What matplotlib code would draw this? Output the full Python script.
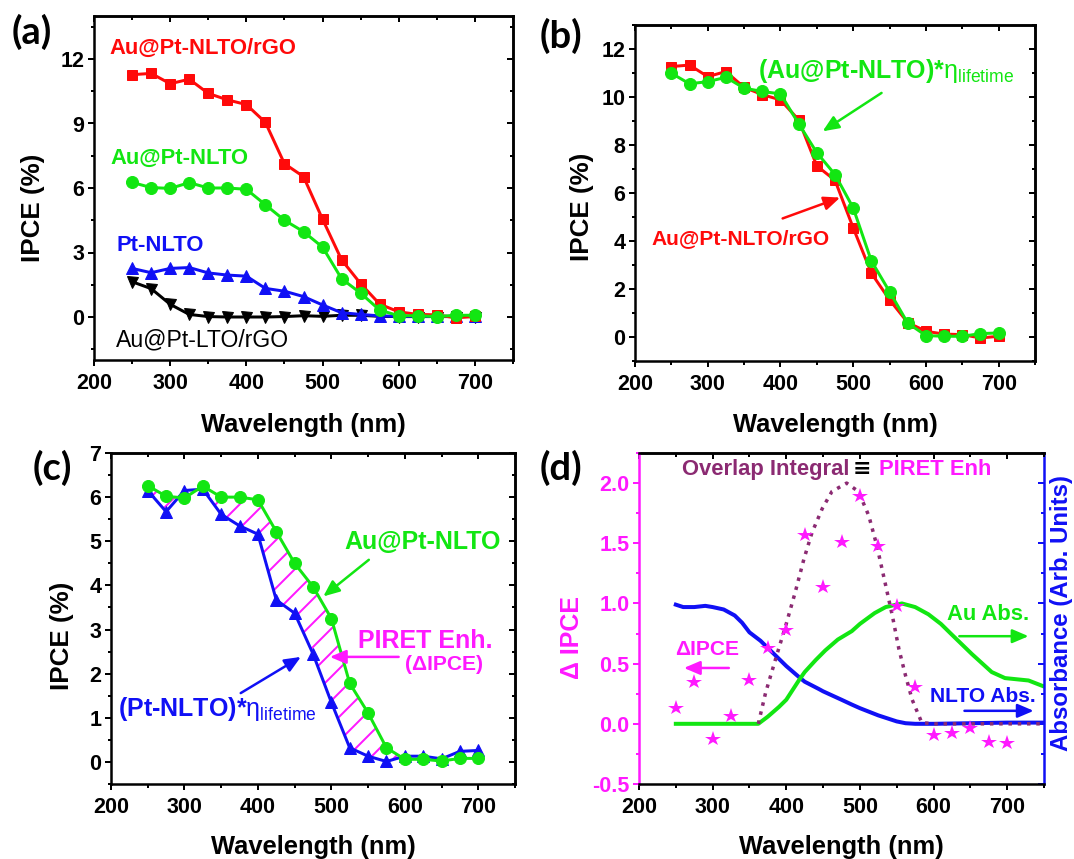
#!/usr/bin/env python3
"""IPCE spectra of the Au@Pt-NLTO photoanodes, four panels (a)-(d)."""
import matplotlib
matplotlib.use("Agg")
import matplotlib.pyplot as plt
from matplotlib.ticker import MultipleLocator

# ---- data ------------------------------------------------------------------
wavelength = [250, 275, 300, 325, 350, 375, 400, 425, 450, 475,
              500, 525, 550, 575, 600, 625, 650, 675, 700]

au_pt_nlto_rgo = [11.27, 11.33, 10.85, 11.06, 10.4, 10.1, 9.88, 9.05, 7.13, 6.53,
                  4.55, 2.66, 1.55, 0.6, 0.24, 0.12, 0.1, -0.04, 0.03]
au_pt_nlto = [6.26, 6.02, 5.98, 6.25, 6.0, 6.0, 5.94, 5.22, 4.5, 3.97,
              3.25, 1.78, 1.11, 0.32, 0.06, 0.06, 0.02, 0.08, 0.08]
pt_nlto = [2.26, 2.06, 2.26, 2.3, 2.05, 1.95, 1.9, 1.33, 1.2, 0.95,
           0.56, 0.2, 0.12, 0.05, 0.03, 0.03, 0.03, 0.03, 0.03]
au_pt_lto_rgo = [1.64, 1.32, 0.59, 0.12, 0.02, 0.0, 0.0, 0.0, 0.02, 0.06,
                 0.03, 0.08, 0.08, 0.03, 0.02, 0.02, 0.02, 0.02, 0.02]

au_pt_nlto_eta = [10.99, 10.55, 10.64, 10.82, 10.37, 10.23, 10.13, 8.89, 7.68, 6.77,
                  5.38, 3.17, 1.89, 0.58, 0.06, 0.03, 0.03, 0.14, 0.17]
pt_nlto_eta = [6.15, 5.67, 6.15, 6.18, 5.61, 5.35, 5.16, 3.67, 3.37, 2.45,
               1.35, 0.32, 0.13, 0.01, 0.13, 0.13, 0.07, 0.24, 0.26]

delta_ipce = [0.13, 0.35, -0.125, 0.067, 0.36, 0.63, 0.78, 1.57, 1.14, 1.51,
              1.89, 1.48, 0.98, 0.31, -0.09, -0.08, -0.036, -0.15, -0.16]

overlap_wl = [362, 372, 388, 399, 412, 424, 435, 449, 462, 482, 498, 512,
              523, 535, 544, 553, 562, 571, 584, 600, 650, 700, 750]
overlap = [0.0, 0.26, 0.59, 0.81, 1.09, 1.37, 1.59, 1.79, 1.93, 2.0, 1.93, 1.73,
           1.48, 1.15, 0.90, 0.62, 0.40, 0.20, 0.01, 0.0, 0.0, 0.0, 0.0]

nlto_abs_wl = [250, 260, 275, 290, 300, 315, 330, 340, 350, 365, 375, 385, 400, 417,
               425, 444, 450, 475, 489, 500, 525, 535, 550, 562, 575, 600, 650, 700, 750]
nlto_abs = [0.99, 0.97, 0.97, 0.98, 0.97, 0.95, 0.90, 0.84, 0.76, 0.69, 0.63, 0.57, 0.48, 0.39,
            0.35, 0.29, 0.27, 0.20, 0.16, 0.13, 0.07, 0.05, 0.02, 0.005, 0.0, 0.0, 0.005, 0.01, 0.01]

au_abs_wl = [250, 300, 362, 375, 390, 400, 417, 425, 440, 453, 470, 489, 500,
             520, 535, 557, 575, 593, 610, 625, 652, 679, 697, 729, 750]
au_abs = [0.0, 0.0, 0.0, 0.06, 0.14, 0.2, 0.36, 0.43, 0.53, 0.61, 0.70, 0.77, 0.83,
          0.92, 0.97, 1.0, 0.97, 0.91, 0.83, 0.74, 0.58, 0.43, 0.38, 0.36, 0.31]

RED = "#ff0a0a"
GREEN = "#12e612"
BLUE = "#1010f5"
MAGENTA = "#ff19ff"
PURPLE = "#8b2a72"

W, H, DPI = 1074, 859, 72   # at 72 dpi one point is one pixel

plt.rcParams.update({
    "font.family": ["Liberation Sans", "DejaVu Sans"],
    "font.weight": "bold",
    "axes.labelweight": "bold",
    "axes.unicode_minus": False,
    "mathtext.fontset": "custom",
    "mathtext.rm": "Liberation Sans:weight=normal",
    "mathtext.it": "Liberation Sans:italic:weight=normal",
    "mathtext.bf": "Liberation Sans:weight=bold",
    "hatch.linewidth": 2.0,
})

fig = plt.figure(figsize=(W / DPI, H / DPI), dpi=DPI)


def panel(left, top, right, bottom):
    return fig.add_axes([left / W, 1 - bottom / H, (right - left) / W, (bottom - top) / H])


def mirror_ticks(ax, side, major, minor, color="black"):
    if side == "top":
        sec = ax.secondary_xaxis("top")
        axis, lab = sec.xaxis, {"labeltop": False}
    else:
        sec = ax.secondary_yaxis("right")
        axis, lab = sec.yaxis, {"labelright": False}
    axis.set_major_locator(MultipleLocator(major))
    axis.set_minor_locator(MultipleLocator(minor))
    sec.tick_params(which="both", direction="in", width=2, colors=color, **lab)
    sec.tick_params(which="major", length=6)
    sec.tick_params(which="minor", length=3.5)
    sec.spines[side].set_linewidth(2.5)
    sec.spines[side].set_color(color)
    return sec


def style(ax, ylim, major, minor, ylabel, ylabel_xy, right=True):
    ax.set_xlim(200, 750)
    ax.set_ylim(*ylim)
    ax.xaxis.set_major_locator(MultipleLocator(100))
    ax.xaxis.set_minor_locator(MultipleLocator(50))
    ax.yaxis.set_major_locator(MultipleLocator(major))
    ax.yaxis.set_minor_locator(MultipleLocator(minor))
    ax.tick_params(which="both", direction="out", width=2, labelsize=21.5)
    ax.tick_params(which="major", length=6)
    ax.tick_params(which="minor", length=3.5)
    ax.tick_params(axis="x", pad=7)
    for sp in ax.spines.values():
        sp.set_linewidth(2.5)
    ax.set_xlabel("Wavelength (nm)", fontsize=25.5)
    ax.xaxis.set_label_coords(0.5, -0.155)
    ax.set_ylabel(ylabel, fontsize=26)
    ax.yaxis.set_label_coords(*ylabel_xy)
    mirror_ticks(ax, "top", 100, 50)
    if right:
        mirror_ticks(ax, "right", major, minor)


def arrow(ax, start, end, color):
    ax.annotate("", xy=end, xytext=start,
                arrowprops=dict(arrowstyle="-|>,head_length=0.75,head_width=0.32",
                                lw=2.5, color=color, mutation_scale=18,
                                shrinkA=0, shrinkB=0))


line_kw = dict(lw=3, mew=1)

# ---- (a) -------------------------------------------------------------------
ax = panel(94, 16, 513, 360)
ax.plot(wavelength, au_pt_lto_rgo, "v-", color="black", ms=11, **line_kw)
ax.plot(wavelength, pt_nlto, "^-", color=BLUE, ms=12, **line_kw)
ax.plot(wavelength, au_pt_nlto_rgo, "s-", color=RED, ms=10, **line_kw)
ax.plot(wavelength, au_pt_nlto, "o-", color=GREEN, ms=12, **line_kw)
style(ax, (-2, 14), 3, 1.5, "IPCE (%)", (-0.1175, 0.442))
ax.text(220, 12.5, "Au@Pt-NLTO/rGO", color=RED, fontsize=22, va="center")
ax.text(222, 7.38, "Au@Pt-NLTO", color=GREEN, fontsize=22, va="center")
ax.text(230, 3.34, "Pt-NLTO", color=BLUE, fontsize=22, va="center")
ax.text(229, -1.05, "Au@Pt-LTO/rGO", color="black", fontsize=23,
        fontweight="normal", va="center")

# ---- (b) -------------------------------------------------------------------
ax = panel(635, 25, 1035, 361)
ax.plot(wavelength, au_pt_nlto_rgo, "s-", color=RED, ms=10, **line_kw)
ax.plot(wavelength, au_pt_nlto_eta, "o-", color=GREEN, ms=12, **line_kw)
style(ax, (-1, 13), 2, 1, "IPCE (%)", (-0.102, 0.458))
ax.text(369, 10.8, r"(Au@Pt-NLTO)*$\mathrm{\eta_{lifetime}}$", color=GREEN,
        fontsize=25, va="baseline")
arrow(ax, (539, 10.17), (458, 8.57), GREEN)
ax.text(223, 4.11, "Au@Pt-NLTO/rGO", color=RED, fontsize=21, va="center")
arrow(ax, (403, 4.94), (482, 5.81), RED)

# ---- (c) -------------------------------------------------------------------
ax = panel(111, 453, 515, 784)
gain = [g > b for g, b in zip(au_pt_nlto, pt_nlto_eta)]
ax.fill_between(wavelength, au_pt_nlto, pt_nlto_eta, where=gain, interpolate=True,
                facecolor="none", edgecolor=MAGENTA, hatch="/", linewidth=0)
ax.plot(wavelength, pt_nlto_eta, "^-", color=BLUE, ms=12, **line_kw)
ax.plot(wavelength, au_pt_nlto, "o-", color=GREEN, ms=12, **line_kw)
style(ax, (-0.5, 7), 1, 0.5, "IPCE (%)", (-0.0916, 0.447))
ax.text(518, 4.99, "Au@Pt-NLTO", color=GREEN, fontsize=25, va="center")
arrow(ax, (551, 4.58), (489, 3.75), GREEN)
ax.text(535.6, 2.73, "PIRET Enh.", color=MAGENTA, fontsize=25, va="center")
ax.text(600, 2.2, "(\u0394IPCE)", color=MAGENTA, fontsize=21, va="center")
arrow(ax, (591.6, 2.38), (498, 2.38), MAGENTA)
ax.text(210, 1.04, r"(Pt-NLTO)*$\mathrm{\eta_{lifetime}}$", color=BLUE,
        fontsize=25, va="baseline")
arrow(ax, (376.6, 1.56), (458.5, 2.38), BLUE)

# ---- (d) -------------------------------------------------------------------
ax = panel(639, 453, 1044, 784)
ax2 = ax.twinx()
ax2.plot(nlto_abs_wl, nlto_abs, "-", color=BLUE, lw=4)
ax2.plot(au_abs_wl, au_abs, "-", color=GREEN, lw=4)
ax.plot(overlap_wl, overlap, ":", color=PURPLE, lw=3.5)
ax.plot(wavelength, delta_ipce, "*", color=MAGENTA, ms=16, mew=0)
ax.set_zorder(ax2.get_zorder() + 1)
ax.patch.set_visible(False)

style(ax, (-0.5, 2.25), 0.5, 0.25, "\u0394 IPCE", (-0.136, 0.444), right=False)
ax.yaxis.label.set_color(MAGENTA)
ax.yaxis.label.set_fontsize(25)
ax.tick_params(axis="y", which="both", colors=MAGENTA)
ax.spines["left"].set_color(MAGENTA)
ax.spines["right"].set_visible(False)

ax2.set_ylim(-0.5, 2.25)
ax2.yaxis.set_major_locator(MultipleLocator(0.5))
ax2.yaxis.set_minor_locator(MultipleLocator(0.25))
ax2.tick_params(which="both", direction="in", width=2, colors=BLUE, labelright=False)
ax2.tick_params(which="major", length=6)
ax2.tick_params(which="minor", length=3.5)
for side in ("left", "top", "bottom"):
    ax2.spines[side].set_visible(False)
ax2.spines["right"].set_color(BLUE)
ax2.spines["right"].set_linewidth(2.5)
ax2.set_ylabel("Absorbance (Arb. Units)", color=BLUE, fontsize=24)
ax2.yaxis.set_label_coords(1.015, 0.517)

ax.text(258.8, 2.117, "Overlap Integral", color=PURPLE, fontsize=22, va="center")
ax.text(490, 2.117, "\u2261", color="black", fontsize=22, va="center",
        family=["DejaVu Sans"])
ax.text(526, 2.117, "PIRET Enh", color=MAGENTA, fontsize=22, va="center")
ax.text(249.4, 0.617, "\u0394IPCE", color=MAGENTA, fontsize=21, va="center")
arrow(ax, (322, 0.464), (261, 0.464), MAGENTA)
ax.text(618.6, 0.908, "Au Abs.", color=GREEN, fontsize=22, va="center")
arrow(ax, (635, 0.728), (729, 0.728), GREEN)
ax.text(595, 0.228, "NLTO Abs.", color=BLUE, fontsize=21, va="center")
arrow(ax, (642, 0.108), (736, 0.108), BLUE)

# ---- panel letters ---------------------------------------------------------
for tag, (px, py) in {"(a)": (32, 32), "(b)": (561, 36),
                      "(c)": (52, 468), "(d)": (561, 468)}.items():
    fig.text(px / W, 1 - py / H, tag, fontsize=38, family=["Lato", "DejaVu Sans"],
             fontweight="bold", ha="center", va="center")

fig.savefig("out.png", dpi=DPI)
